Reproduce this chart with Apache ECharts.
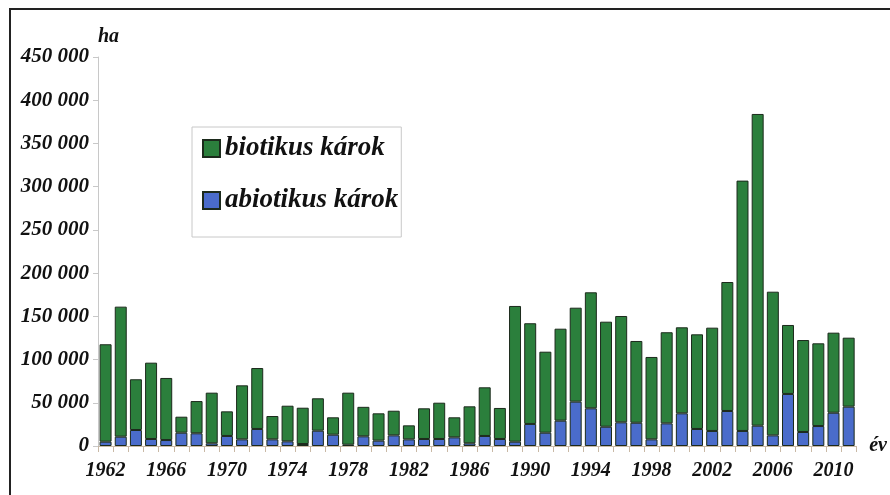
<!DOCTYPE html>
<html>
<head>
<meta charset="utf-8">
<script src="https://cdn.jsdelivr.net/npm/echarts@6/dist/echarts.min.js"></script>
<style>
  html, body { margin: 0; padding: 0; background: #fff; }
  #main { width: 890px; height: 495px; }
</style>
</head>
<body>
<div id="main"></div>
<script>
// years 1962 - 2011
var years = [];
for (var y = 1962; y <= 2011; y++) {
    years.push(String(y));
}

// total damaged area (ha)
var totals = [117700, 161200, 77200, 96400, 78700, 33900, 52000, 61700, 40100, 70200,
    90200, 34700, 46600, 44300, 55200, 33200, 61700, 45300, 37800, 40800,
    23900, 43600, 50100, 33200, 45900, 67900, 44000, 162000, 142000, 109100,
    135700, 160000, 177800, 143800, 150400, 121500, 103000, 131600, 137300, 129200,
    136900, 189700, 307000, 384100, 178500, 140000, 122600, 118800, 131100, 125300];

// abiotikus károk (ha)
var abiotic = [5000, 10800, 18500, 8100, 6900, 15400, 14700, 3100, 11600, 7700,
    19700, 7700, 5400, 2300, 17700, 13100, 1500, 11200, 6200, 12300,
    7700, 8100, 8100, 10000, 3100, 11600, 8100, 5000, 25500, 15400,
    29300, 51300, 43600, 22300, 27400, 26900, 7700, 26200, 37800, 19700,
    17400, 40500, 17400, 23500, 12300, 60200, 16200, 23100, 38500, 45500];

// biotikus károk = total - abiotikus
var biotic = totals.map(function (t, i) { return t - abiotic[i]; });

var serif = '"Liberation Serif", "DejaVu Serif", serif';

function fmtThousands(v) {
    return String(v).replace(/\B(?=(\d{3})+(?!\d))/g, ' ');
}

var myChart = echarts.init(document.getElementById('main'));

var option = {
    animation: false,
    backgroundColor: '#fff',
    graphic: [
        {
            type: 'rect',
            shape: { x: 10, y: 9, width: 900, height: 500 },
            style: { fill: 'none', stroke: '#222', lineWidth: 2 },
            silent: true
        }
    ],
    legend: {
        data: ['biotikus károk', 'abiotikus károk'],
        orient: 'vertical',
        left: 192,
        top: 127,
        padding: [8, 3, 23, 10],
        itemGap: 25,
        itemWidth: 17,
        itemHeight: 17,
        icon: 'rect',
        backgroundColor: '#fff',
        borderColor: '#c8c8c8',
        borderWidth: 1,
        textStyle: {
            fontFamily: serif,
            fontStyle: 'italic',
            fontWeight: 'bold',
            fontSize: 27,
            color: '#111'
        }
    },
    grid: {
        left: 98,
        right: 33,
        top: 57,
        bottom: 49
    },
    xAxis: {
        type: 'category',
        data: years,
        name: 'év',
        nameLocation: 'end',
        nameGap: 13,
        nameTextStyle: {
            fontFamily: serif,
            fontStyle: 'italic',
            fontWeight: 'bold',
            fontSize: 20,
            color: '#111',
            padding: [12, 0, 0, 0]
        },
        axisLine: { lineStyle: { color: '#c9b9a6', width: 1 } },
        axisTick: {
            show: true,
            interval: 0,
            length: 6,
            lineStyle: { color: '#c9b9a6' }
        },
        axisLabel: {
            interval: 3,
            margin: 15,
            fontFamily: serif,
            fontStyle: 'italic',
            fontWeight: 'bold',
            fontSize: 20,
            color: '#111'
        }
    },
    yAxis: {
        type: 'value',
        min: 0,
        max: 450000,
        interval: 50000,
        name: 'ha',
        nameLocation: 'end',
        nameGap: 10,
        nameTextStyle: {
            fontFamily: serif,
            fontStyle: 'italic',
            fontWeight: 'bold',
            fontSize: 20,
            color: '#111',
            align: 'left'
        },
        splitLine: { show: false },
        axisLine: { show: true, lineStyle: { color: '#c8c8c8' } },
        axisTick: { show: true, length: 5, lineStyle: { color: '#c8c8c8' } },
        axisLabel: {
            margin: 9,
            fontFamily: serif,
            fontStyle: 'italic',
            fontWeight: 'bold',
            fontSize: 21,
            color: '#111',
            formatter: fmtThousands
        }
    },
    series: [
        {
            name: 'abiotikus károk',
            type: 'bar',
            stack: 'karok',
            data: abiotic,
            barCategoryGap: '21%',
            itemStyle: { color: '#4a6ccb', borderColor: '#1c2a1c', borderWidth: 1 }
        },
        {
            name: 'biotikus károk',
            type: 'bar',
            stack: 'karok',
            data: biotic,
            itemStyle: { color: '#2b7f3c', borderColor: '#1c2a1c', borderWidth: 1 }
        }
    ]
};

myChart.setOption(option);
</script>
</body>
</html>
